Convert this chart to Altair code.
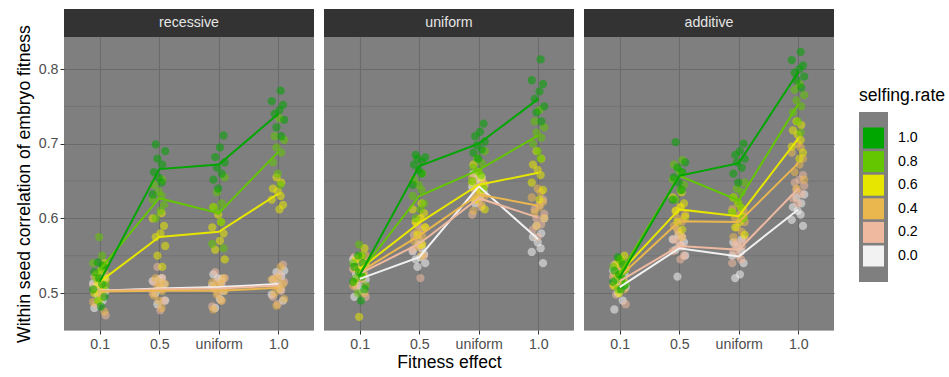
import altair as alt
import pandas as pd

MODELS = ["recessive", "uniform", "additive"]
EFFECTS = ["0.1", "0.5", "uniform", "1.0"]
RATES = ["1.0", "0.8", "0.6", "0.4", "0.2", "0.0"]
COLORS = ["#00A600", "#63C600", "#E6E600", "#EAB64E", "#EEB99F", "#F2F2F2"]
LEGEND_TITLE = "selfing.rate"
Y_TITLE = "Within seed correlation of embryo fitness"
X_TITLE = "Fitness effect"

# line values (mean per selfing rate), one value per fitness effect
MEAN_RECESSIVE = {
    "1.0": [0.515, 0.666, 0.672, 0.740],
    "0.8": [0.531, 0.627, 0.607, 0.689],
    "0.6": [0.515, 0.575, 0.582, 0.633],
    "0.4": [0.502, 0.503, 0.503, 0.507],
    "0.2": [0.503, 0.505, 0.506, 0.510],
    "0.0": [0.503, 0.506, 0.508, 0.512],
}
MEAN_UNIFORM = {
    "1.0": [0.524, 0.670, 0.700, 0.760],
    "0.8": [0.527, 0.630, 0.665, 0.711],
    "0.6": [0.532, 0.594, 0.645, 0.661],
    "0.4": [0.528, 0.577, 0.632, 0.617],
    "0.2": [0.526, 0.566, 0.627, 0.601],
    "0.0": [0.519, 0.548, 0.643, 0.572],
}
MEAN_ADDITIVE = {
    "1.0": [0.521, 0.657, 0.674, 0.796],
    "0.8": [0.526, 0.657, 0.624, 0.753],
    "0.6": [0.527, 0.612, 0.603, 0.707],
    "0.4": [0.522, 0.596, 0.595, 0.674],
    "0.2": [0.516, 0.563, 0.558, 0.640],
    "0.0": [0.508, 0.560, 0.549, 0.612],
}

# replicate points per selfing rate: one list per fitness effect
PTS_RECESSIVE = {
    "1.0": [[0.482, 0.495, 0.505, 0.512, 0.520, 0.528, 0.537, 0.541],
            [0.632, 0.648, 0.655, 0.662, 0.672, 0.680, 0.690, 0.699],
            [0.640, 0.652, 0.660, 0.668, 0.675, 0.682, 0.695, 0.711],
            [0.710, 0.722, 0.732, 0.740, 0.745, 0.752, 0.757, 0.771]],
    "0.8": [[0.490, 0.510, 0.520, 0.530, 0.535, 0.540, 0.550, 0.575],
            [0.600, 0.610, 0.618, 0.625, 0.630, 0.636, 0.645, 0.652],
            [0.560, 0.566, 0.595, 0.610, 0.615, 0.620, 0.635, 0.655],
            [0.645, 0.660, 0.675, 0.688, 0.695, 0.705, 0.710, 0.734]],
    "0.6": [[0.490, 0.500, 0.505, 0.512, 0.518, 0.525, 0.530, 0.540],
            [0.535, 0.550, 0.563, 0.575, 0.580, 0.590, 0.600, 0.607],
            [0.545, 0.558, 0.570, 0.580, 0.588, 0.595, 0.605, 0.615],
            [0.612, 0.618, 0.625, 0.630, 0.636, 0.640, 0.648, 0.655]],
    "0.4": [[0.475, 0.488, 0.495, 0.500, 0.505, 0.510, 0.518, 0.525],
            [0.480, 0.490, 0.497, 0.503, 0.508, 0.512, 0.520, 0.514],
            [0.478, 0.490, 0.498, 0.503, 0.508, 0.513, 0.520, 0.514],
            [0.483, 0.492, 0.500, 0.506, 0.512, 0.518, 0.535, 0.520]],
    "0.2": [[0.470, 0.485, 0.495, 0.502, 0.510, 0.515, 0.525, 0.522],
            [0.477, 0.490, 0.500, 0.505, 0.510, 0.515, 0.520, 0.535],
            [0.482, 0.490, 0.500, 0.506, 0.512, 0.516, 0.520, 0.528],
            [0.485, 0.495, 0.503, 0.510, 0.515, 0.520, 0.525, 0.538]],
    "0.0": [[0.480, 0.490, 0.497, 0.503, 0.508, 0.513, 0.520, 0.513],
            [0.485, 0.490, 0.500, 0.507, 0.512, 0.516, 0.520, 0.518],
            [0.480, 0.492, 0.503, 0.510, 0.515, 0.520, 0.525, 0.519],
            [0.490, 0.498, 0.505, 0.512, 0.518, 0.522, 0.528, 0.530]],
}
PTS_UNIFORM = {
    "1.0": [[0.490, 0.505, 0.515, 0.522, 0.528, 0.535, 0.540, 0.550],
            [0.645, 0.660, 0.665, 0.672, 0.676, 0.680, 0.682, 0.685],
            [0.680, 0.688, 0.692, 0.698, 0.703, 0.710, 0.716, 0.727],
            [0.730, 0.742, 0.750, 0.760, 0.770, 0.780, 0.785, 0.813]],
    "0.8": [[0.500, 0.510, 0.520, 0.527, 0.533, 0.540, 0.550, 0.565],
            [0.600, 0.612, 0.620, 0.630, 0.638, 0.645, 0.652, 0.660],
            [0.640, 0.650, 0.658, 0.663, 0.668, 0.674, 0.680, 0.690],
            [0.680, 0.690, 0.700, 0.708, 0.715, 0.722, 0.730, 0.745]],
    "0.6": [[0.468, 0.515, 0.525, 0.532, 0.540, 0.545, 0.550, 0.560],
            [0.565, 0.578, 0.588, 0.595, 0.600, 0.607, 0.612, 0.620],
            [0.612, 0.625, 0.635, 0.642, 0.648, 0.655, 0.662, 0.672],
            [0.625, 0.638, 0.648, 0.658, 0.665, 0.672, 0.680, 0.690]],
    "0.4": [[0.500, 0.510, 0.520, 0.527, 0.533, 0.538, 0.545, 0.550],
            [0.550, 0.562, 0.570, 0.576, 0.582, 0.588, 0.595, 0.600],
            [0.610, 0.618, 0.625, 0.630, 0.636, 0.642, 0.648, 0.655],
            [0.590, 0.600, 0.608, 0.615, 0.622, 0.628, 0.635, 0.640]],
    "0.2": [[0.495, 0.508, 0.518, 0.525, 0.532, 0.538, 0.545, 0.548],
            [0.520, 0.550, 0.558, 0.565, 0.572, 0.578, 0.585, 0.592],
            [0.605, 0.615, 0.622, 0.628, 0.634, 0.640, 0.645, 0.650],
            [0.575, 0.585, 0.592, 0.600, 0.606, 0.612, 0.618, 0.625]],
    "0.0": [[0.495, 0.503, 0.510, 0.518, 0.525, 0.530, 0.538, 0.545],
            [0.535, 0.540, 0.545, 0.548, 0.552, 0.556, 0.560, 0.565],
            [0.620, 0.628, 0.636, 0.642, 0.648, 0.654, 0.660, 0.655],
            [0.540, 0.555, 0.560, 0.568, 0.575, 0.580, 0.590, 0.600]],
}
PTS_ADDITIVE = {
    "1.0": [[0.505, 0.510, 0.515, 0.520, 0.525, 0.530, 0.538, 0.548],
            [0.625, 0.638, 0.648, 0.655, 0.662, 0.668, 0.675, 0.702],
            [0.648, 0.660, 0.668, 0.675, 0.680, 0.685, 0.690, 0.700],
            [0.775, 0.785, 0.790, 0.795, 0.800, 0.805, 0.812, 0.823]],
    "0.8": [[0.505, 0.512, 0.518, 0.525, 0.530, 0.535, 0.542, 0.545],
            [0.625, 0.638, 0.645, 0.652, 0.660, 0.665, 0.672, 0.678],
            [0.600, 0.608, 0.615, 0.622, 0.628, 0.635, 0.640, 0.648],
            [0.715, 0.730, 0.742, 0.750, 0.758, 0.765, 0.772, 0.780]],
    "0.6": [[0.500, 0.510, 0.518, 0.525, 0.532, 0.538, 0.545, 0.550],
            [0.585, 0.595, 0.602, 0.610, 0.615, 0.620, 0.628, 0.635],
            [0.578, 0.588, 0.595, 0.602, 0.608, 0.614, 0.620, 0.628],
            [0.680, 0.688, 0.696, 0.705, 0.712, 0.718, 0.725, 0.730]],
    "0.4": [[0.505, 0.510, 0.515, 0.520, 0.525, 0.530, 0.535, 0.538],
            [0.575, 0.582, 0.590, 0.596, 0.600, 0.605, 0.610, 0.615],
            [0.575, 0.582, 0.588, 0.595, 0.600, 0.605, 0.610, 0.612],
            [0.640, 0.652, 0.662, 0.672, 0.680, 0.688, 0.695, 0.700]],
    "0.2": [[0.485, 0.498, 0.508, 0.515, 0.522, 0.528, 0.532, 0.538],
            [0.545, 0.550, 0.556, 0.562, 0.568, 0.572, 0.575, 0.585],
            [0.540, 0.545, 0.550, 0.556, 0.562, 0.568, 0.572, 0.565],
            [0.620, 0.627, 0.633, 0.638, 0.644, 0.648, 0.652, 0.658]],
    "0.0": [[0.478, 0.490, 0.500, 0.508, 0.515, 0.520, 0.525, 0.530],
            [0.522, 0.550, 0.558, 0.564, 0.568, 0.572, 0.575, 0.578],
            [0.520, 0.525, 0.540, 0.550, 0.556, 0.562, 0.568, 0.572],
            [0.590, 0.598, 0.605, 0.610, 0.615, 0.620, 0.628, 0.632]],
}

# horizontal jitter offsets (in category units)
JITTER = [-0.09, 0.05, -0.03, 0.10, -0.06, 0.02, 0.08, -0.11, 0.04, -0.01]

MINOR_Y = [0.45, 0.55, 0.65, 0.75]
MAJOR_Y = [0.5, 0.6, 0.7, 0.8]

MEANS = {"recessive": MEAN_RECESSIVE, "uniform": MEAN_UNIFORM, "additive": MEAN_ADDITIVE}
PTS = {"recessive": PTS_RECESSIVE, "uniform": PTS_UNIFORM, "additive": PTS_ADDITIVE}

pt_rows, line_rows = [], []
for m in MODELS:
    for ri, r in enumerate(reversed(RATES)):
        for ei, e in enumerate(EFFECTS):
            line_rows.append({"model": m, "rate": r, "xpos": ei, "value": MEANS[m][r][ei], "order": ri})
            for k, v in enumerate(PTS[m][r][ei]):
                j = JITTER[(k + 3 * ri + 2 * ei) % len(JITTER)]
                pt_rows.append({"model": m, "rate": r, "xpos": ei + j, "value": v, "order": ri})
pts_df = pd.DataFrame(pt_rows)
line_df = pd.DataFrame(line_rows)

W, H = 250, 293
FONT = "Liberation Sans"
TICK_FS = 14.2
TITLE_FS = 17.6
GRID = "#6b6b6b"
xscale = alt.Scale(domain=[-0.6, 3.6], nice=False, zero=False)
yscale = alt.Scale(domain=[0.4505, 0.8429], nice=False, zero=False)
cscale = alt.Scale(domain=RATES, range=COLORS)
label_expr = "[" + ",".join("'%s'" % e for e in EFFECTS) + "][datum.value]"


def panel(m, idx):
    if idx == 0:
        yaxis = alt.Axis(values=MAJOR_Y, format=".1f", grid=True, gridColor=GRID, gridWidth=1.1,
                         domain=False, tickColor="#333333", tickSize=4, labelFontSize=TICK_FS,
                         labelColor="#4d4d4d", labelPadding=2, title=Y_TITLE,
                         titleFontSize=TITLE_FS, titleFontWeight="normal", titleColor="black",
                         titlePadding=5)
    else:
        yaxis = alt.Axis(values=MAJOR_Y, grid=True, gridColor=GRID, gridWidth=1.1, domain=False,
                         labels=False, ticks=False, title=None)
    xaxis = alt.Axis(values=[0, 1, 2, 3], labelExpr=label_expr, grid=True, gridColor=GRID,
                     gridWidth=1.1, domain=False, tickColor="#333333", tickSize=4, labelFontSize=TICK_FS,
                     labelColor="#4d4d4d", labelPadding=3, title=X_TITLE if idx == 1 else None,
                     titleFontSize=TITLE_FS, titleFontWeight="normal", titleColor="black", titlePadding=2)

    minor = alt.Chart(pd.DataFrame({"value": MINOR_Y})).mark_rule(color=GRID, strokeWidth=0.6).encode(
        y=alt.Y("value:Q", scale=yscale, axis=yaxis))
    points = alt.Chart(pts_df[pts_df.model == m]).mark_circle(size=68, opacity=0.55).encode(
        x=alt.X("xpos:Q", scale=xscale, axis=xaxis),
        y=alt.Y("value:Q", scale=yscale, axis=yaxis),
        color=alt.Color("rate:N", scale=cscale, legend=None),
        order=alt.Order("order:Q"),
    )
    lines = alt.Chart(line_df[line_df.model == m]).mark_line(strokeWidth=2).encode(
        x=alt.X("xpos:Q", scale=xscale, axis=xaxis),
        y=alt.Y("value:Q", scale=yscale, axis=yaxis),
        color=alt.Color("rate:N", scale=cscale, legend=None),
        detail="rate:N",
    )
    strip = alt.Chart(pd.DataFrame({"t": [m]})).mark_rect(color="#333333").encode(
        x=alt.value(0), x2=alt.value(W), y=alt.value(-28), y2=alt.value(0))
    strip_text = alt.Chart(pd.DataFrame({"t": [m]})).mark_text(
        color="#e5e5e5", fontSize=TICK_FS, font=FONT, baseline="middle", align="center").encode(
        x=alt.value(W / 2), y=alt.value(-14), text="t:N")
    return alt.layer(minor, points, lines, strip, strip_text).properties(width=W, height=H)


# manual legend (ggplot style: grey key column with filled squares)
leg_df = pd.DataFrame({"rate": RATES})
leg_bg = alt.Chart(pd.DataFrame({"t": [LEGEND_TITLE]})).mark_rect(color="#7f7f7f").encode(
    x=alt.value(16), x2=alt.value(45), y=alt.value(75), y2=alt.value(245))
leg_keys = alt.Chart(leg_df).mark_square(size=441, opacity=1).encode(
    x=alt.value(30.5),
    y=alt.Y("rate:N", scale=alt.Scale(domain=RATES, range=[89.2, 230.8]), axis=None),
    color=alt.Color("rate:N", scale=cscale, legend=None),
)
leg_labels = alt.Chart(leg_df).mark_text(align="left", baseline="middle", fontSize=TICK_FS,
                                         font=FONT, color="black").encode(
    x=alt.value(55),
    y=alt.Y("rate:N", scale=alt.Scale(domain=RATES, range=[89.2, 230.8]), axis=None),
    text="rate:N",
)
leg_title = alt.Chart(pd.DataFrame({"t": [LEGEND_TITLE]})).mark_text(
    align="left", baseline="middle", fontSize=TITLE_FS, font=FONT, color="black").encode(
    x=alt.value(16), y=alt.value(59), text="t:N")
legend = alt.layer(leg_bg, leg_keys, leg_labels, leg_title).properties(
    width=96, height=H, view=alt.ViewBackground(fill="white", stroke="white", strokeWidth=0))

chart = alt.hconcat(*[panel(m, i) for i, m in enumerate(MODELS)], legend, spacing=8).resolve_scale(
    x="independent", y="independent", color="shared").properties(
    padding={"left": 15, "top": 9, "right": 0, "bottom": 0}).configure(
    font=FONT).configure_view(fill="#7f7f7f", stroke=None)

chart.save("out.html", embed_options={"renderer": "svg", "actions": False})
